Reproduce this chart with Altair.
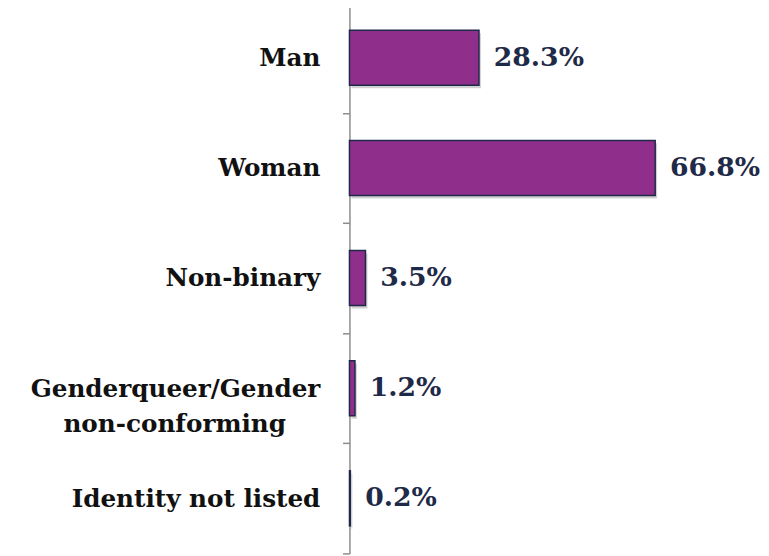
import altair as alt
import pandas as pd

categories = ["Man", "Woman", "Non-binary", "Genderqueer/Gender|non-conforming", "Identity not listed"]
values = [28.3, 66.8, 3.5, 1.2, 0.2]

df = pd.DataFrame({"category": categories, "value": values})

BAR = "#8F2F8B"
NAVY = "#1F2A48"
AXIS_GRAY = "#8C8C8C"

y_enc = alt.Y(
    "category:N",
    sort=categories,
    title=None,
    scale=alt.Scale(paddingInner=0, paddingOuter=0),
    axis=alt.Axis(
        domainColor=AXIS_GRAY,
        domainWidth=1.5,
        tickColor=AXIS_GRAY,
        tickWidth=1.5,
        tickSize=7,
        tickBand="extent",
        labelPadding=23,
        labelFont="DejaVu Serif",
        labelFontWeight="bold",
        labelFontSize=25,
        labelColor="#111111",
        labelLimit=400,
        labelLineHeight=36,
        labelExpr="indexof(datum.label, '|') > 0 ? [split(datum.label, '|')[0], split(datum.label, '|')[1] + '\u00a0\u00a0\u00a0\u00a0\u200b'] : datum.label",
    ),
)

x_enc = alt.X("value:Q", scale=alt.Scale(domain=[0, 80]), axis=None)

base = alt.Chart(df)

band = alt.RelativeBandSize(band=0.5)

shadow = base.mark_bar(color="#000000", opacity=0.18, xOffset=2, yOffset=3, height=band).encode(
    y=y_enc, x=x_enc
)

bars = base.mark_bar(color=BAR, stroke=NAVY, strokeWidth=1.5, height=band).encode(
    y=y_enc, x=x_enc
)

text = base.transform_calculate(
    label="format(datum.value, '.1f') + '%'"
).mark_text(
    align="left",
    baseline="middle",
    dx=15,
    font="DejaVu Serif",
    fontWeight="bold",
    fontSize=27,
    color=NAVY,
).encode(y=y_enc, x=x_enc, text="label:N")

chart = (
    alt.layer(shadow, bars, text)
    .properties(
        width=371,
        height=558,
        background="white",
        padding={"left": 22, "top": -21, "right": 0, "bottom": 0},
    )
    .configure_view(stroke="transparent", strokeWidth=0)
)

chart.save("out.html", embed_options={"renderer": "svg", "actions": False})
